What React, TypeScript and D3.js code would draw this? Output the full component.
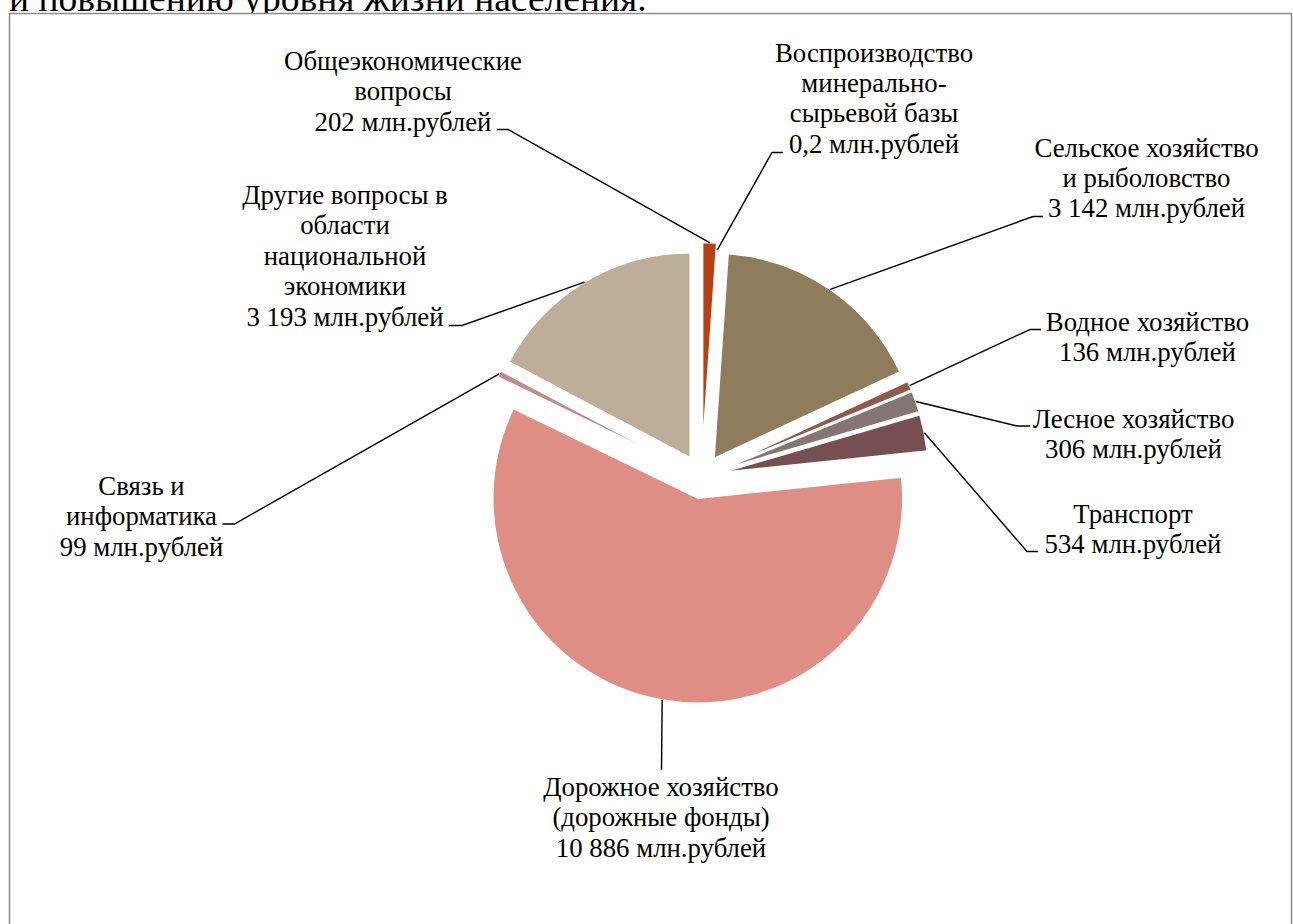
import React from "react";
import * as d3 from "d3";

// ---- data ----
const categories: string[] = [
  "Общеэкономические\nвопросы",
  "Воспроизводство\nминерально-\nсырьевой базы",
  "Сельское хозяйство\nи рыболовство",
  "Водное хозяйство",
  "Лесное хозяйство",
  "Транспорт",
  "Дорожное хозяйство\n(дорожные фонды)",
  "Связь и\nинформатика",
  "Другие вопросы в\nобласти\nнациональной\nэкономики",
];
const values: number[] = [202, 0.2, 3142, 136, 306, 534, 10886, 99, 3193];
const unit = "млн.рублей";
const colors: string[] = [
  "#B94015", "#A8502A", "#8E7C5D", "#8E5A4A", "#857674",
  "#754F51", "#DF8E85", "#C08B88", "#BCAE99",
];
const explode: number[] = [29, 22, 22, 22, 22, 22, 22, 22, 22];
const headerText = "и повышению уровня жизни населения.";

// ---- layout ----
type LabelLayout = { cx: number; y0: number; elbow: [number, number]; tick?: number };
const labelLayout: LabelLayout[] = [
  { cx: 403, y0: 70, elbow: [508, 129.5], tick: 497 },
  { cx: 874, y0: 61.5, elbow: [772, 152.5], tick: 783 },
  { cx: 1146.5, y0: 156.5, elbow: [1033, 216.5], tick: 1043 },
  { cx: 1147.5, y0: 330.5, elbow: [1030, 329.5], tick: 1041 },
  { cx: 1133.5, y0: 427.5, elbow: [1017, 426], tick: 1030 },
  { cx: 1133, y0: 522.5, elbow: [1027, 551.5], tick: 1038 },
  { cx: 661, y0: 796, elbow: [661.5, 770] },
  { cx: 141.5, y0: 495, elbow: [234.5, 524], tick: 222.5 },
  { cx: 345, y0: 204, elbow: [462, 325.5], tick: 449 },
];

const W = 1293;
const H = 924;
const CX = 701.6;
const CY = 476.5;
const R = 205;
const LINE = 30.4;
const FONT = "Liberation Serif";

const fmt = d3.formatLocale({
  decimal: ",",
  thousands: " ",
  grouping: [3],
  currency: ["", ""],
}).format(",");

export default function App() {
  const pie = d3
    .pie<number>()
    .sort(null)
    .value((d) => d)
    .startAngle(0)
    .endAngle(2 * Math.PI);
  const arcs = pie(values);
  const arc = d3.arc<d3.PieArcDatum<number>>().innerRadius(0).outerRadius(R);
  const rim = d3.arc<d3.PieArcDatum<number>>().innerRadius(R).outerRadius(R);

  return (
    <svg
      width={W}
      height={H}
      style={{ position: "absolute", left: 0, top: 0, background: "#fff" }}
    >
      <text x={9} y={11} fontSize={37.5} fill="#000" style={{ fontFamily: FONT }}>
        {headerText}
      </text>
      <rect x={9.5} y={13.5} width={1282} height={H + 20} fill="#fff" stroke="#8a8a8a" strokeWidth={1.5} />
      <g>
        {arcs.map((a, i) => {
          const mid = (a.startAngle + a.endAngle) / 2;
          const dx = Math.sin(mid) * explode[i];
          const dy = -Math.cos(mid) * explode[i];
          return (
            <path
              key={i}
              d={arc(a) || ""}
              transform={`translate(${CX + dx},${CY + dy})`}
              fill={colors[i]}
              stroke="#fff"
              strokeWidth={1.5}
              strokeLinejoin="round"
            />
          );
        })}
      </g>
      <g>
        {arcs.map((a, i) => {
          const mid = (a.startAngle + a.endAngle) / 2;
          const [px, py] = rim.centroid(a);
          const ox = CX + Math.sin(mid) * explode[i] + px;
          const oy = CY - Math.cos(mid) * explode[i] + py;
          const L = labelLayout[i];
          const pts: [number, number][] = [[ox, oy], L.elbow];
          if (L.tick !== undefined) pts.push([L.tick, L.elbow[1]]);
          return (
            <polyline
              key={i}
              points={pts.map((p) => p.join(",")).join(" ")}
              fill="none"
              stroke="#000"
              strokeWidth={1.4}
            />
          );
        })}
      </g>
      <g>
        {categories.map((c, i) => {
          const lines = [...c.split("\n"), `${fmt(values[i])} ${unit}`];
          const L = labelLayout[i];
          return (
            <text key={i} fontSize={26.8} fill="#000" textAnchor="middle" style={{ fontFamily: FONT }}>
              {lines.map((ln, j) => (
                <tspan key={j} x={L.cx} y={L.y0 + j * LINE}>
                  {ln}
                </tspan>
              ))}
            </text>
          );
        })}
      </g>
    </svg>
  );
}
